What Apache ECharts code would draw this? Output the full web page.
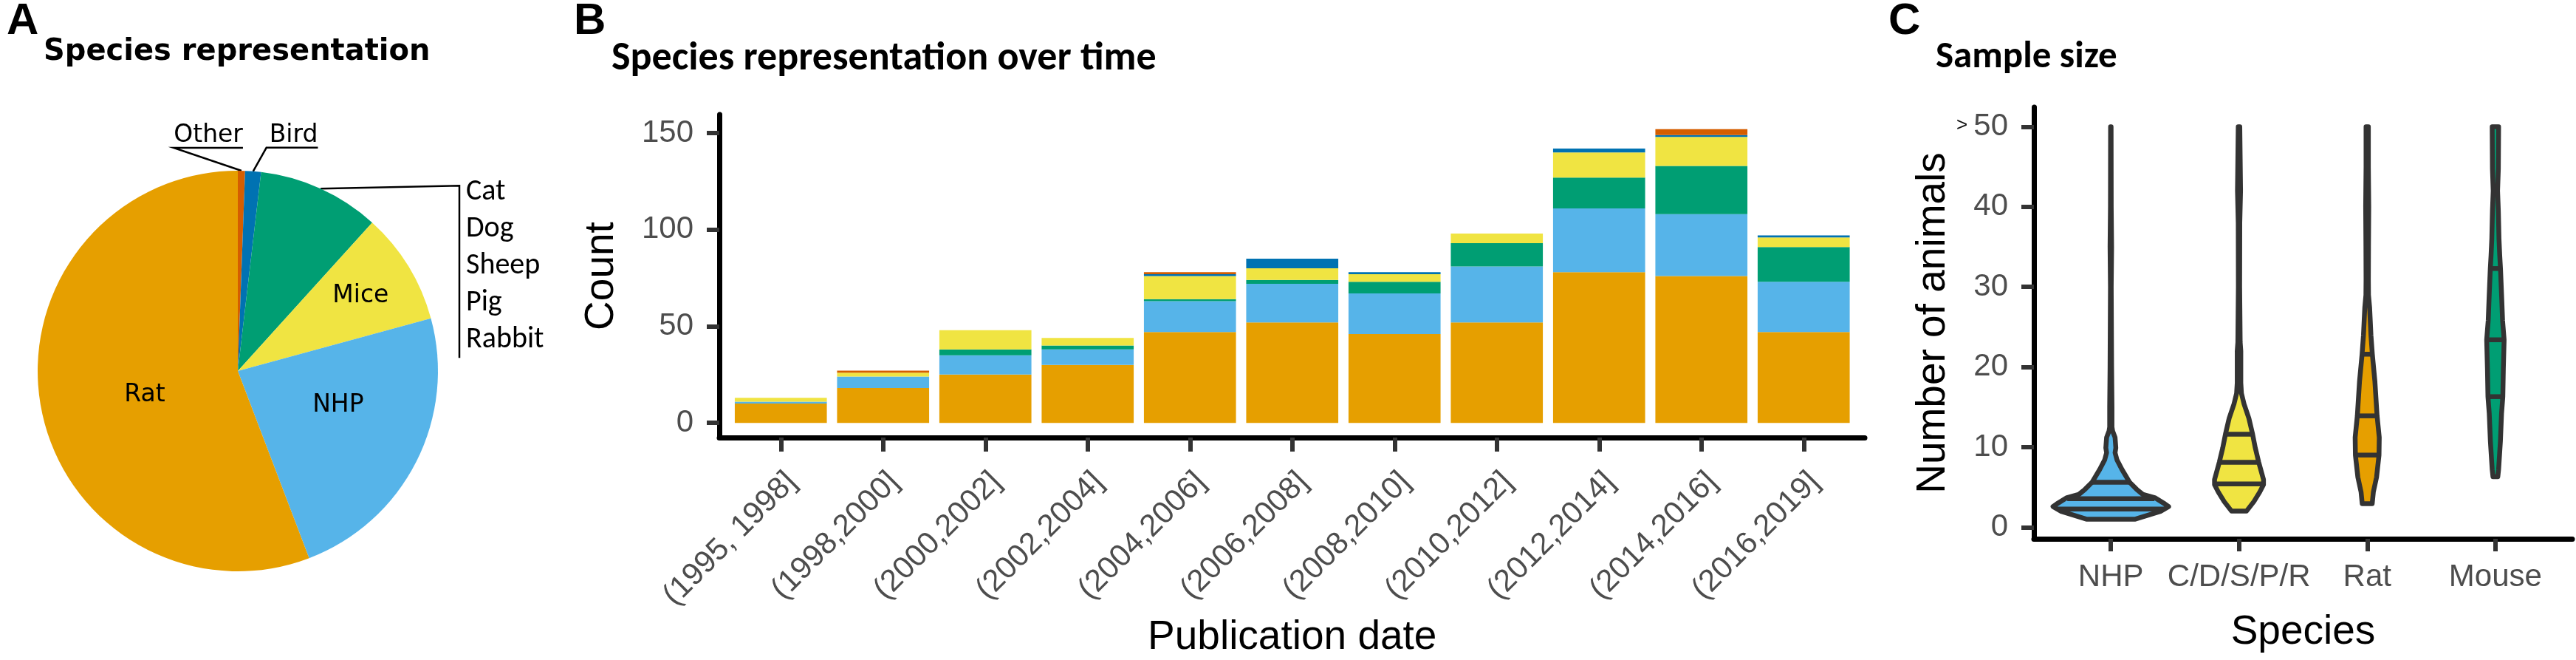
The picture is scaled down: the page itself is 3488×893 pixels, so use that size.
<!DOCTYPE html>
<html>
<head>
<meta charset="utf-8">
<title>Species representation</title>
<script src="https://cdn.jsdelivr.net/npm/echarts@6/dist/echarts.min.js"></script>
<style>
  html, body { margin: 0; padding: 0; background: #fff; }
  #chart { width: 3488px; height: 893px; }
</style>
</head>
<body>
<div id="chart"></div>
<script>
/* A: species share, clockwise from 12 o'clock */
var pieNames = ['Other', 'Bird', 'Cat/Dog/Sheep/Pig/Rabbit', 'Mice', 'NHP', 'Rat'];
var pieLabels = ['Other', 'Bird', 'Cat\nDog\nSheep\nPig\nRabbit', 'Mice', 'NHP', 'Rat'];
var pieValues = [5, 11, 85, 78, 202, 481];

/* B: papers per period, stacked bottom to top */
var periods = ['(1995, 1998]', '(1998,2000]', '(2000,2002]', '(2002,2004]', '(2004,2006]', '(2006,2008]',
               '(2008,2010]', '(2010,2012]', '(2012,2014]', '(2014,2016]', '(2016,2019]'];
var ratCounts   = [10, 18, 25, 30, 47, 52, 46, 52, 78, 76, 47];
var nhpCounts   = [1, 6, 10, 8, 16, 20, 21, 29, 33, 32, 26];
var cdsprCounts = [0, 0, 3, 2, 1, 2, 6, 12, 16, 25, 18];
var miceCounts  = [2, 2, 10, 4, 12, 6, 4, 5, 13, 15, 5];
var birdCounts  = [0, 0, 0, 0, 1, 5, 1, 0, 2, 1, 1];
var otherCounts = [0, 1, 0, 0, 1, 0, 0, 0, 0, 3, 0];
var countTicks  = [0, 50, 100, 150];

/* C: violin outlines, [animals, half width as share of the category band] */
var species = ['NHP', 'C/D/S/P/R', 'Rat', 'Mouse'];
var nhpViolin = [[1.0, 0.191], [1.97, 0.387], [2.57, 0.451], [2.9, 0.422], [3.65, 0.347], [4.1, 0.249],
                 [4.72, 0.202], [5.64, 0.145], [7.2, 0.087], [8.4, 0.048], [9.3, 0.033], [9.9, 0.039],
                 [11.2, 0.033], [12, 0.014], [12.5, 0.009], [15, 0.009], [20, 0.006], [30, 0.003],
                 [35, 0.006], [40, 0.003], [50, 0.002]];
var cdsprViolin = [[2.0, 0.058], [3.2, 0.116], [4.4, 0.162], [5.3, 0.191], [5.95, 0.191], [8.1, 0.154],
                   [9.9, 0.127], [11.6, 0.106], [13.6, 0.077], [15.4, 0.039], [16.7, 0.019], [18, 0.014],
                   [22, 0.014], [23.1, 0.009], [30, 0.005], [38, 0.006], [42, 0.012], [46, 0.009], [50, 0.006]];
var ratViolin = [[2.94, 0.039], [4.4, 0.048], [6.25, 0.073], [9.0, 0.092], [11.2, 0.094], [13.9, 0.077],
                 [18.2, 0.060], [21.6, 0.040], [24, 0.029], [27.4, 0.019], [29, 0.010], [31, 0.009],
                 [35, 0.010], [40, 0.012], [45, 0.009], [50, 0.009]];
var mouseViolin = [[6.3, 0.019], [7.2, 0.025], [10.7, 0.039], [14.2, 0.048], [16.3, 0.058], [19.8, 0.062],
                   [23.4, 0.068], [25.8, 0.056], [28.3, 0.050], [32.2, 0.040], [33.9, 0.034], [36, 0.028],
                   [39.5, 0.023], [42, 0.017], [44.75, 0.023], [50, 0.025]];
var nhpQuartiles   = [[2.27, 0.42], [3.55, 0.34], [5.6, 0.145]];
var cdsprQuartiles = [[5.4, 0.191], [8.1, 0.154], [11.6, 0.106]];
var ratQuartiles   = [[9.0, 0.092], [13.9, 0.077], [21.6, 0.040]];
var mouseQuartiles = [[16.3, 0.058], [23.4, 0.068], [32.3, 0.040]];
var animalTicks = [0, 10, 20, 30, 40, 50];

var colRat = '#E69F00', colNhp = '#56B4E9', colCat = '#009E73',
    colMice = '#F0E442', colBird = '#0072B2', colOther = '#D55E00';
var pieColors = [colOther, colBird, colCat, colMice, colNhp, colRat];
var violinColors = [colNhp, colMice, colRat, colCat];
var violins = [nhpViolin, cdsprViolin, ratViolin, mouseViolin];
var quartiles = [nhpQuartiles, cdsprQuartiles, ratQuartiles, mouseQuartiles];

var ARIAL = '"Liberation Sans", Arial, sans-serif';
var VERDANA = '"DejaVu Sans", Verdana, sans-serif';
var CALIBRI = 'Carlito, Lato, Calibri, sans-serif';

var PIE_CX = 322, PIE_CY = 502, PIE_R = 271;

function pieMid(i) {
    var total = 0, acc = 0;
    pieValues.forEach(function (v, k) { total += v; if (k < i) acc += v; });
    return (acc + pieValues[i] / 2) / total * Math.PI * 2;
}
function piePoint(i, f, turn) {
    var a = pieMid(i) + (turn || 0) * Math.PI / 180;
    return [PIE_CX + f * PIE_R * Math.sin(a), PIE_CY - f * PIE_R * Math.cos(a)];
}
// inside labels: [share of radius, turn in degrees off the slice middle]
var insidePlace = {3: [0.72, 0], 4: [0.53, -8], 5: [0.48, -4]};

function pieLabelLayout(p) {
    var i = p.dataIndex, w = p.labelRect.width, e = piePoint(i, 1);
    if (i === 0) {            // Other, underlined to the left
        var y0 = e[1] - 31, x0 = e[0] + 2;
        return {x: x0, y: y0, align: 'right', verticalAlign: 'bottom',
                labelLinePoints: [e, [x0 - w, y0], [x0, y0]]};
    }
    if (i === 1) {            // Bird, underlined to the right
        var y1 = e[1] - 32, x1 = e[0] + 18;
        return {x: x1 + 4, y: y1, align: 'left', verticalAlign: 'bottom',
                labelLinePoints: [e, [x1, y1], [x1 + w + 4, y1]]};
    }
    if (i === 2) {            // bracket for the five species
        var bx = PIE_CX + 300;
        return {x: bx + 9, y: e[1] - 20, align: 'left', verticalAlign: 'top',
                labelLinePoints: [e, [bx, e[1] - 4], [bx, e[1] + 229]]};
    }
    var c = piePoint(i, insidePlace[i][0], insidePlace[i][1]);
    return {x: c[0], y: c[1], align: 'center', verticalAlign: 'middle'};
}

function seriesBar(name, values, color) {
    return {
        name: name, type: 'bar', stack: 'papers', xAxisIndex: 0, yAxisIndex: 0,
        barWidth: '90%', itemStyle: {color: color}, data: values
    };
}

function renderViolin(params, api) {
    var i = params.dataIndex;
    var band = api.size([1, 0])[0];
    var prof = violins[i];
    var right = prof.map(function (d) { var p = api.coord([i, d[0]]); return [p[0] + d[1] * band, p[1]]; });
    var left = prof.slice().reverse().map(function (d) { var p = api.coord([i, d[0]]); return [p[0] - d[1] * band, p[1]]; });
    var children = [{
        type: 'polygon', shape: {points: right.concat(left)},
        style: {fill: violinColors[i], stroke: '#333333', lineWidth: 6.5, lineJoin: 'round'}
    }];
    quartiles[i].forEach(function (q) {
        var p = api.coord([i, q[0]]);
        children.push({
            type: 'line',
            shape: {x1: p[0] - q[1] * band, y1: p[1], x2: p[0] + q[1] * band, y2: p[1]},
            style: {stroke: '#333333', lineWidth: 6.5}
        });
    });
    return {type: 'group', children: children};
}

var axisLine = {show: true, onZero: false, lineStyle: {color: '#000', width: 7}};
var tickStyle = {color: '#333333', width: 6};

var chart = echarts.init(document.getElementById('chart'), null, {renderer: 'canvas'});
chart.setOption({
    animation: false,
    backgroundColor: '#fff',
    title: [
        {text: 'A', left: 4, top: -6, textStyle: {fontFamily: ARIAL, fontWeight: 'bold', fontSize: 60, color: '#000'}},
        {text: 'Species representation', left: 54, top: 46, textStyle: {fontFamily: VERDANA, fontWeight: 'bold', fontSize: 40, color: '#000'}},
        {text: 'B', left: 772, top: -6, textStyle: {fontFamily: ARIAL, fontWeight: 'bold', fontSize: 60, color: '#000'}},
        {text: 'Species representation over time', left: 823, top: 48, textStyle: {fontFamily: CALIBRI, fontWeight: 'bold', fontSize: 54, color: '#000'}},
        {text: 'C', left: 2552, top: -6, textStyle: {fontFamily: ARIAL, fontWeight: 'bold', fontSize: 60, color: '#000'}},
        {text: 'Sample size', left: 2616, top: 48, textStyle: {fontFamily: CALIBRI, fontWeight: 'bold', fontSize: 51, color: '#000'}}
    ],
    grid: [
        // bars: ggplot keeps 0.6 of a band free at each end, the frame below spans that margin too
        {left: 988, top: 155, width: 1523.5, height: 437},
        {left: 2754, top: 145, width: 729, height: 584},
        {left: 974, top: 155, width: 1551, height: 437}
    ],
    xAxis: [{
        gridIndex: 0, type: 'category', data: periods, boundaryGap: true,
        name: 'Publication date', nameLocation: 'middle', nameGap: 243,
        nameTextStyle: {fontFamily: ARIAL, fontSize: 55, color: '#000'},
        axisLine: {show: false, onZero: false},
        axisTick: {show: true, alignWithLabel: true, length: 19, lineStyle: tickStyle},
        axisLabel: {
            interval: 0, rotate: 45, align: 'right', verticalAlign: 'top', margin: 39,
            fontFamily: ARIAL, fontSize: 42, color: '#4D4D4D'
        },
        splitLine: {show: false}
    }, {
        gridIndex: 1, type: 'value', min: -0.6, max: 3.6,
        name: 'Species', nameLocation: 'middle', nameGap: 99,
        nameTextStyle: {fontFamily: ARIAL, fontSize: 55, color: '#000'},
        axisLine: axisLine,
        axisTick: {show: true, length: 17, customValues: species.map(function (s, i) { return i; }), lineStyle: tickStyle},
        axisLabel: {
            customValues: species.map(function (s, i) { return i; }),
            formatter: function (v) { return species[Math.round(v)]; },
            margin: 31, fontFamily: ARIAL, fontSize: 42, color: '#4D4D4D'
        },
        splitLine: {show: false}
    }, {
        gridIndex: 2, type: 'value', min: 0, max: 1,
        axisLine: axisLine, axisTick: {show: false}, axisLabel: {show: false}, splitLine: {show: false}
    }],
    yAxis: [{
        gridIndex: 0, type: 'value', min: -7.6, max: 159.6, offset: 14,
        name: 'Count', nameLocation: 'middle', nameGap: 132,
        nameTextStyle: {fontFamily: ARIAL, fontSize: 55, color: '#000'},
        axisLine: axisLine,
        axisTick: {show: true, length: 17, customValues: countTicks, lineStyle: tickStyle},
        axisLabel: {customValues: countTicks, margin: 35, fontFamily: ARIAL, fontSize: 42, color: '#4D4D4D'},
        splitLine: {show: false}
    }, {
        gridIndex: 1, type: 'value', min: -1.45, max: 52.45,
        name: 'Number of animals', nameLocation: 'middle', nameGap: 108,
        nameTextStyle: {fontFamily: ARIAL, fontSize: 55, color: '#000'},
        axisLine: axisLine,
        axisTick: {show: true, length: 17, customValues: animalTicks, lineStyle: tickStyle},
        axisLabel: {
            customValues: animalTicks, margin: 35,
            formatter: function (v) { return v === 50 ? '{gt|>}50' : String(v); },
            fontFamily: ARIAL, fontSize: 42, color: '#4D4D4D',
            rich: {gt: {fontFamily: ARIAL, fontSize: 26, color: '#111', padding: [0, 8, 3, 0]}}
        },
        splitLine: {show: false}
    }, {
        gridIndex: 2, type: 'value', show: false
    }],
    series: [
        {
            name: 'Species', type: 'pie', center: [PIE_CX, PIE_CY], radius: PIE_R,
            startAngle: 90, clockwise: true, avoidLabelOverlap: false,
            label: {show: true, position: 'outside', fontFamily: VERDANA, fontSize: 33, color: '#000'},
            labelLine: {show: true, length: 10, length2: 10, lineStyle: {color: '#000', width: 2.5}},
            labelLayout: pieLabelLayout,
            emphasis: {disabled: true},
            data: pieNames.map(function (n, i) {
                var item = {name: n, value: pieValues[i], itemStyle: {color: pieColors[i]}};
                if (i === 2) {
                    item.label = {formatter: pieLabels[i], fontFamily: CALIBRI, fontSize: 40, lineHeight: 50};
                } else if (i > 2) {
                    item.label = {position: 'inside', formatter: pieLabels[i]};
                    item.labelLine = {show: false};
                } else {
                    item.label = {formatter: pieLabels[i]};
                }
                return item;
            })
        },
        seriesBar('Rat', ratCounts, colRat),
        seriesBar('NHP', nhpCounts, colNhp),
        seriesBar('C/D/S/P/R', cdsprCounts, colCat),
        seriesBar('Mice', miceCounts, colMice),
        seriesBar('Bird', birdCounts, colBird),
        seriesBar('Other', otherCounts, colOther),
        {
            name: 'Sample size', type: 'custom', xAxisIndex: 1, yAxisIndex: 1,
            renderItem: renderViolin, clip: false,
            encode: {x: 0, y: 1},
            data: species.map(function (s, i) { return [i, 0]; })
        }
    ]
});
</script>
</body>
</html>
